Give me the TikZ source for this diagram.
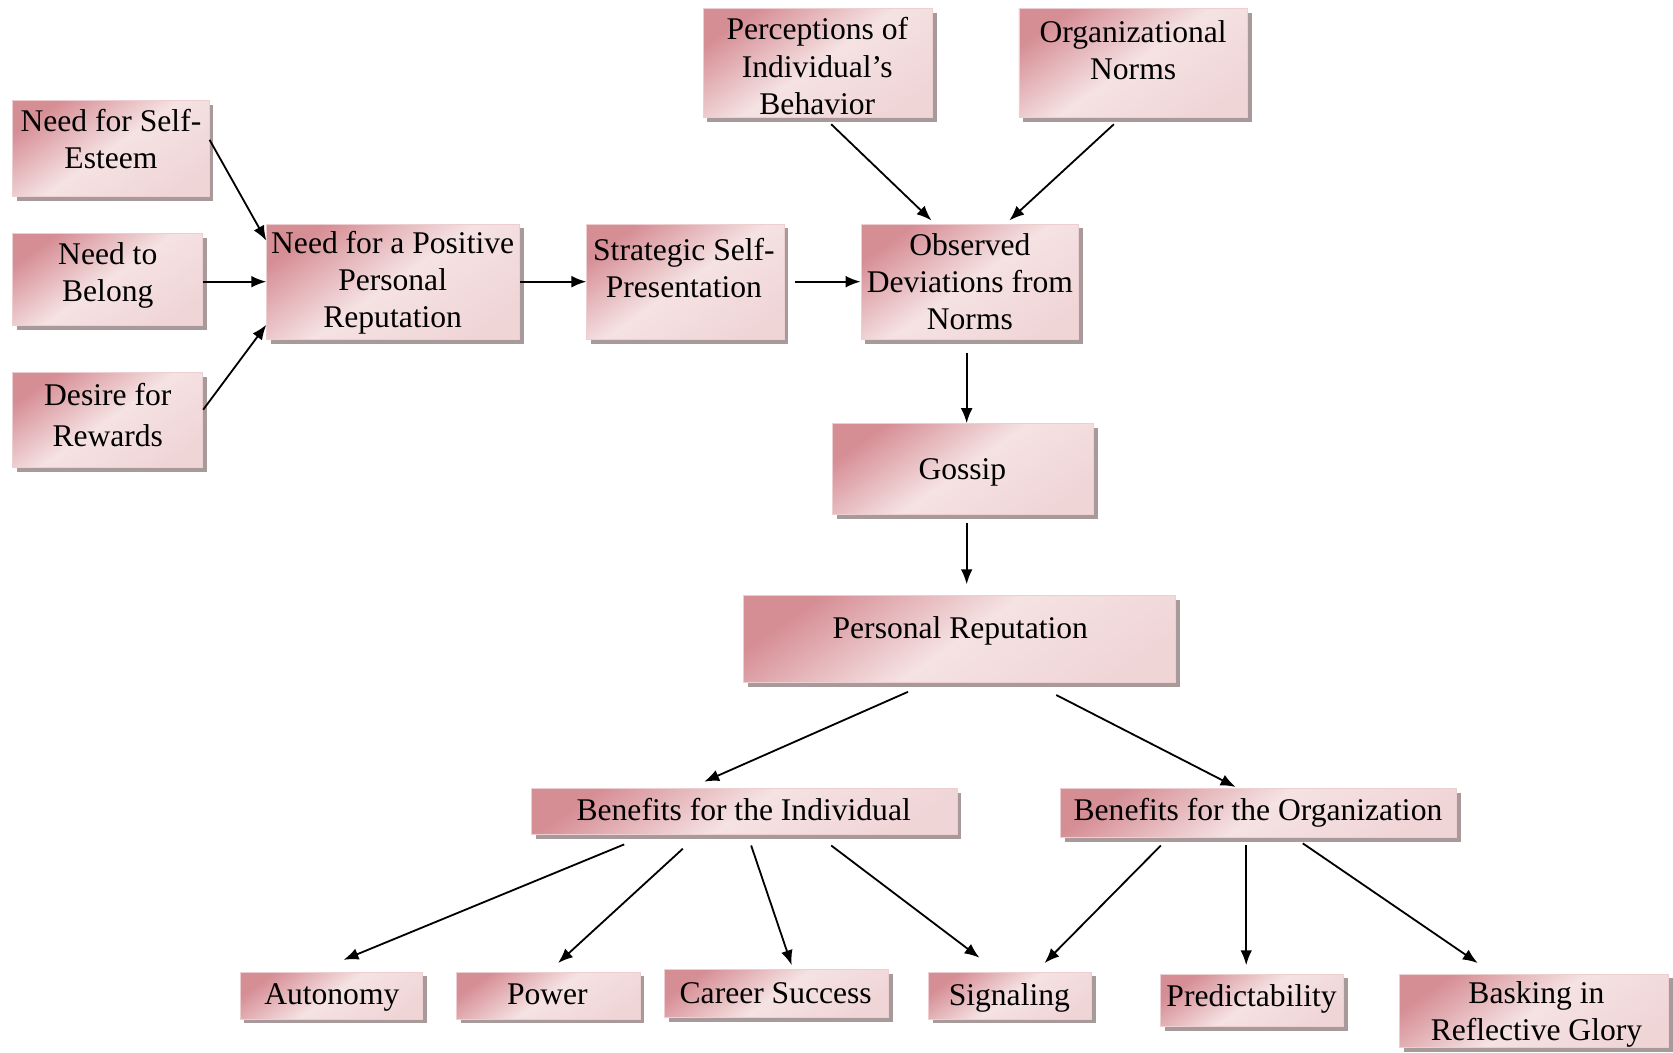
\documentclass[tikz,border=0pt]{standalone}
\usepackage{fontspec}
\setmainfont{Liberation Serif}
\usetikzlibrary{calc,shadows,arrows.meta}
\definecolor{pinkD}{HTML}{D68E95}
\definecolor{pinkL}{HTML}{F5E2E3}
\definecolor{pinkB}{HTML}{EDCFD1}
\definecolor{shad}{HTML}{A89A9B}
\tikzset{
  box/.style={draw=pinkB, line width=0.4pt, shading=axis, top color=pinkD, bottom color=pinkL!85!pinkD, middle color=pinkL, shading angle=35, inner sep=0pt,
    drop shadow={shadow xshift=2pt, shadow yshift=-2pt, fill=shad, opacity=1}},
  txt/.style={inner sep=0pt, align=center, font=\fontsize{14.8}{17.5}\selectfont},
  arr/.style={line width=0.85pt, -{Latex[length=7pt,width=5.5pt]}}
}
\newcommand{\bx}[5]{\node[box, minimum width=#4*0.5pt, minimum height=#5*0.5pt] (#1) at (#2,#3) {};}
\begin{document}
\begin{tikzpicture}[x=0.5pt,y=-0.5pt]
\useasboundingbox (0,0) rectangle (1568,986);
% boxes
\bx{se}{104}{139}{184}{90}
\bx{nb}{101}{262}{178}{86}
\bx{dr}{101}{393.5}{178}{89}
\bx{np}{368.5}{264}{237}{108}
\bx{sp}{642.5}{264}{185}{108}
\bx{od}{909}{264}{204}{108}
\bx{pe}{766.5}{59}{215}{102}
\bx{on}{1062}{59}{214}{102}
\bx{go}{902.5}{439.5}{245}{85}
\bx{pr}{899.5}{599}{405}{82}
\bx{bi}{697.5}{760.5}{399}{43}
\bx{bo}{1179.5}{762}{371}{46}
\bx{au}{310.5}{933}{171}{44}
\bx{po}{514}{933}{172}{44}
\bx{cs}{728}{931.5}{210}{45}
\bx{si}{946.5}{933}{153}{44}
\bx{pd}{1173.5}{937.5}{171}{49}
\bx{bk}{1438}{947.5}{252}{69}
% texts
\node[txt] (set) at (104,130) {Need for Self-\\Esteem};
\node[txt] (nbt) at (101,258) {Need to\\Belong};
\node[txt] (drt) at (101,389) {Desire for\\[2pt]Rewards};
\node[txt] (npt) at (368,265) {Need for a Positive\\Personal\\Reputation};
\node[txt] (spt) at (641,251) {Strategic Self-\\Presentation};
\node[txt] (odt) at (909,264) {Observed\\Deviations from\\Norms};
\node[txt] (pet) at (766,62) {Perceptions of\\Individual’s\\Behavior};
\node[txt] (ont) at (1062,47) {Organizational\\Norms};
\node[txt] (got) at (902,443) {Gossip};
\node[txt] (prt) at (900,591) {Personal Reputation};
\node[txt] (bit) at (697,759) {Benefits for the Individual};
\node[txt] (bot) at (1179,762) {Benefits for the Organization};
\node[txt] (aut) at (311,935) {Autonomy};
\node[txt] (pot) at (513,932) {Power};
\node[txt] (cst) at (727,931) {Career Success};
\node[txt] (sit) at (946,935) {Signaling};
\node[txt] (pdt) at (1173,936) {Predictability};
\node[txt] (bkt) at (1440,951) {Basking in\\Reflective Glory};
% connectors
\draw[arr] ($(se.east)+(0,-8)$) -- ($(np.north west)+(0,16)$);
\draw[arr] ($(nb.east)+(0,2)$) -- (np.west);
\draw[arr] ($(dr.east)+(0,-9.5)$) -- ($(np.south west)+(0,-14)$);
\draw[arr] (np.east) -- (sp.west);
\draw[arr] ($(sp.east)+(10,0)$) -- (od.west);
\draw[arr] ($(pe.south)+(12.5,6)$) -- ($(od.north)+(-36,-3)$);
\draw[arr] ($(on.south)+(-18,6)$) -- ($(od.north)+(37,-3)$);
\draw[arr] ($(od.south)+(-3,12)$) -- ($(go.north)+(3.5,0)$);
\draw[arr] ($(go.south)+(3.5,8)$) -- ($(pr.north)+(6.5,-10)$);
\draw[arr] ($(pr.south)+(-48.5,8)$) -- ($(bi.north)+(-37.5,-6)$);
\draw[arr] ($(pr.south)+(90.5,11)$) -- ($(bo.north)+(-21.5,-1)$);
\draw[arr] ($(bi.south)+(-112.5,9)$) -- ($(au.north)+(11.5,-11)$);
\draw[arr] ($(bi.south)+(-57.5,13)$) -- ($(po.north)+(9,-8)$);
\draw[arr] ($(bi.south)+(6.5,10)$) -- ($(cs.north)+(14,-4)$);
\draw[arr] ($(bi.south)+(81.5,10)$) -- ($(si.north)+(-28.5,-13)$);
\draw[arr] ($(bo.south)+(-91.5,7)$) -- ($(si.north)+(32.5,-8)$);
\draw[arr] ($(bo.south)+(-11.5,7)$) -- ($(pd.north)+(-5.5,-8)$);
\draw[arr] ($(bo.south)+(41.5,5)$) -- ($(bk.north)+(-53,-10)$);
\end{tikzpicture}
\end{document}
